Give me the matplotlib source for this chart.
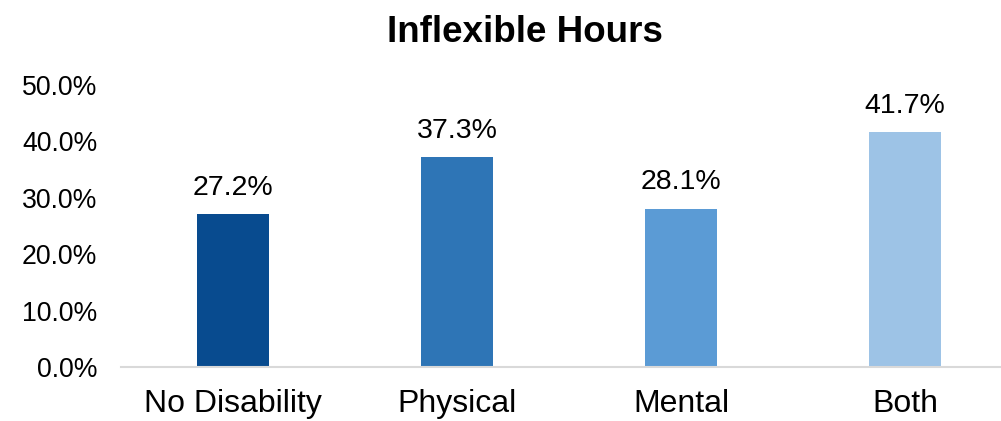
import matplotlib
matplotlib.use("Agg")
import matplotlib.pyplot as plt
from matplotlib.ticker import FuncFormatter

categories = ["No Disability", "Physical", "Mental", "Both"]
values = [27.2, 37.3, 28.1, 41.7]
colors = ["#084B8F", "#2E75B6", "#5B9BD5", "#9DC3E6"]
yticks = [0, 10, 20, 30, 40, 50]
title = "Inflexible Hours"

plt.rcParams['font.family'] = ['Liberation Sans', 'DejaVu Sans']

W, H = 1001, 421
fig = plt.figure(figsize=(W / 100, H / 100), dpi=100)
left, right = 121 / W, 1.0
bottom, top = 1 - 367 / H, 1 - 85 / H
ax = fig.add_axes([left, bottom, right - left, top - bottom])

x = list(range(len(categories)))
ax.bar(x, values, width=0.317, color=colors, zorder=2)
ax.set_xlim(-0.5, -0.5 + 880 / 224)
ax.set_ylim(0, 50)
ax.set_yticks(yticks)
ax.yaxis.set_major_formatter(FuncFormatter(lambda v, p: f"{v:.1f}%"))
ax.set_xticks(x)
ax.set_xticklabels(categories)
ax.tick_params(axis='y', length=0, pad=17.0, labelsize=19.2, labelcolor='black')
ax.tick_params(axis='x', length=0, pad=16, labelsize=23, labelcolor='black')
for s in ['top', 'right', 'left']:
    ax.spines[s].set_visible(False)
ax.spines['bottom'].set_color('#D9D9D9')
ax.spines['bottom'].set_linewidth(1.5)
ax.spines['bottom'].set_zorder(3)

for xi, v in zip(x, values):
    ax.annotate(f"{v:.1f}%", xy=(xi, v), xytext=(0, 13.7), textcoords='offset points',
                ha='center', va='baseline', fontsize=20.5, color='black')

fig.text(525 / W, 1 - 42 / H, title, ha='center', va='baseline',
         fontsize=26.5, fontweight='bold', color='black')

fig.savefig("out.png", dpi=100, facecolor='white')
